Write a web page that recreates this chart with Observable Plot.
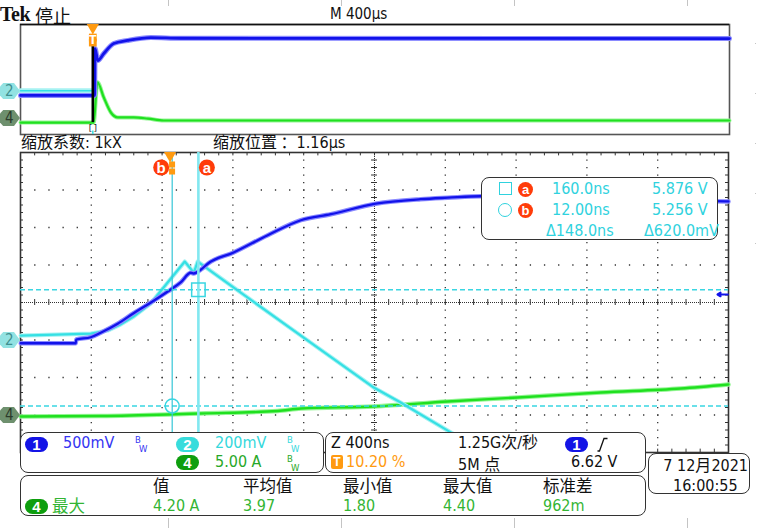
<!DOCTYPE html>
<html><head><meta charset="utf-8">
<script src="https://cdn.jsdelivr.net/npm/d3@7"></script>
<script src="https://cdn.jsdelivr.net/npm/@observablehq/plot@0.6"></script>
<style>
body{margin:0;background:#fff;}
#wrap{position:relative;width:757px;height:528px;overflow:hidden;background:#fff;font-family:"Liberation Sans Narrow","DejaVu Sans Condensed","Noto Sans CJK SC",sans-serif;font-size:16px;color:#111;}
.abs{position:absolute;white-space:nowrap;line-height:1;}
.box{position:absolute;border:1.3px solid #333;border-radius:8px;background:#fff;box-sizing:border-box;}
.pill{position:absolute;width:23px;height:15px;border-radius:8px;color:#fff;font-weight:bold;font-size:15px;text-align:center;line-height:15px;font-family:"Liberation Sans","DejaVu Sans",sans-serif;}
.cjk{font-family:"Noto Sans CJK SC",sans-serif;line-height:1;}
.tag{position:absolute;left:0;width:20px;height:16px;clip-path:polygon(0 22%,16% 0,70% 0,100% 50%,70% 100%,16% 100%,0 78%);font-size:15px;line-height:16px;padding-left:5px;box-sizing:border-box;}
.sep{position:absolute;width:1px;background:#c4c4c4;}
.bw{position:absolute;font-size:8.5px;line-height:1;font-family:"DejaVu Sans",sans-serif;}
.ab{display:inline-block;width:15px;height:15px;border-radius:50%;background:#ff3c0a;color:#fff;font-weight:bold;font-size:13px;line-height:15px;text-align:center;font-family:"Liberation Sans","DejaVu Sans",sans-serif;}
svg{display:block;}
</style></head><body><div id="wrap"></div>
<script>
// ---------------- settings ----------------
const mainTimeDomain = [-845, 3155];      // ns, Z 400 ns/div, 10 div
const overviewTimeDomain = [-408, 3592];  // µs, M 400 µs/div, trigger at 10.20 %
const divDomain = [-4, 4];
const ch1Set = {vdiv: 0.5, offset: 6.513, pos: 0};     // 500 mV/div
const ch2Set = {vdiv: 0.2, offset: 5.605, pos: -1.013}; // 200 mV/div
const ch4Set = {vdiv: 5.0, offset: 0, pos: -3.013};     // 5.00 A/div
const trigLevel = 6.62; // V on ch1

// ---------------- zoomed window data (time ns) ----------------
const ch1T = [-844,-533,-530,-448,-392,-296,-206,-110,-13,60,117,134,173,213,359,552,739,908,1162,1416,1569,1755,2433,3155];
const ch1V = [5.97,5.97,6.02,6.05,6.11,6.23,6.37,6.51,6.66,6.78,6.91,6.90,6.95,7.03,7.18,7.41,7.61,7.69,7.83,7.89,7.91,7.93,7.89,7.86];

const ch2T = [-844,-448,-352,-280,-206,-110,83,134,156,344,739,1151,1303,1569,1642];
const ch2V = [5.631,5.642,5.658,5.690,5.732,5.802,6.026,5.967,6.026,5.898,5.631,5.354,5.274,5.124,5.082];

const ch4T = [-844,-392,-13,173,608,739,1151,1569,1964,2433,2885,3155];
const ch4A = [-0.13,-0.07,0.13,0.27,0.60,0.93,1.20,1.87,2.40,3.07,3.60,4.13];

// cursors (source ch2)
const cursorT = {a: 160.0, b: 12.00};
const cursorV = {a: 5.876, b: 5.256};

// ---------------- overview record (time µs, value in display divisions) ----------------
const ovCh1T = [-408,10,13,28,62,118,197,327,497,3592];
const ovCh1D = [-1.16,-1.16,2.25,1.38,1.89,2.62,2.84,3.05,3.00,2.98];
const ovCh2T = [-408,0];
const ovCh2D = [-0.82,-0.82];
const ovCh4T = [-408,5,26,62,102,141,231,310,400,3592];
const ovCh4D = [-3.13,-3.13,-0.20,-1.31,-2.40,-2.76,-2.76,-2.84,-2.98,-2.98];

// ---------------- helpers ----------------
const toDiv = (v, s) => (v - s.offset) / s.vdiv + s.pos;
const mk = (T, V, s) => T.map((t, i) => ({t, y: s ? toDiv(V[i], s) : V[i]}));
const c1 = mk(ch1T, ch1V, ch1Set), c2 = mk(ch2T, ch2V, ch2Set), c4 = mk(ch4T, ch4A, ch4Set);
const o1 = mk(ovCh1T, ovCh1D), o2 = mk(ovCh2T, ovCh2D), o4 = mk(ovCh4T, ovCh4D);

const BLUE = "#1212ea", BLUE_H = "#8a8aff";
const CYAN = "#35e0e4", CYAN_H = "#a6f2f2";
const GREEN = "#1fe01f", GREEN_H = "#95f595";
const ORANGE = "#ff9a10", RED = "#ff3c0a";

const t0 = mainTimeDomain[0], divW = (mainTimeDomain[1]-mainTimeDomain[0])/10;
const majorT = d3.range(1,10).filter(k => k !== 5).map(k => t0 + divW*k);
const centerT = t0 + divW*5;
const majorY = [-3,-2,-1,1,2,3];
const minorT = d3.range(0,51).map(i => t0 + divW/5*i);
const minorY = d3.range(0,41).map(i => -4 + 0.2*i);
const tickT = divW/5*0.21; // ~3px in time units

const wrap = document.getElementById("wrap");
function add(html, style, cls = "abs") {
  const d = document.createElement("div"); d.className = cls; d.innerHTML = html;
  Object.assign(d.style, style); wrap.appendChild(d); return d;
}

// ---------------- overview plot ----------------
const ov = Plot.plot({
  width: 757, height: 140, marginLeft: 20, marginRight: 28, marginTop: 24, marginBottom: 6,
  x: {domain: overviewTimeDomain, axis: null},
  y: {domain: divDomain, axis: null},
  style: {background: "transparent", overflow: "visible"},
  marks: [
    Plot.frame({stroke: "#555", strokeWidth: 1.6}),
    Plot.ruleY([4], {stroke: "#111", strokeWidth: 1.6}),
    Plot.line(o2, {x: "t", y: "y", stroke: CYAN_H, strokeWidth: 5}),
    Plot.line(o2, {x: "t", y: "y", stroke: CYAN, strokeWidth: 1.5}),
    Plot.line(o4, {x: "t", y: "y", stroke: GREEN_H, strokeWidth: 4, curve: "monotone-x"}),
    Plot.line(o4, {x: "t", y: "y", stroke: GREEN, strokeWidth: 2.2, curve: "monotone-x"}),
    Plot.line(o1, {x: "t", y: "y", stroke: BLUE_H, strokeWidth: 5, curve: "monotone-x"}),
    Plot.line(o1, {x: "t", y: "y", stroke: BLUE, strokeWidth: 2.8, curve: "monotone-x"}),
    Plot.ruleX([0], {y1: 2.4, y2: -3.13, stroke: "#000", strokeWidth: 2.6}),
    Plot.ruleX([0], {y1: -3.75, y2: -4, stroke: CYAN, strokeWidth: 1.5}),
    Plot.text([0], {x: d => d, y: -3.5, text: () => "[ ]", fontSize: 9, fill: "#222"}),
    Plot.dot([0], {x: d => d, y: 4, dy: 3, symbol: "triangle", rotate: 180, r: 4.5, fill: ORANGE}),
    Plot.dot([0], {x: d => d, y: 2.98, dy: -1, symbol: "square", r: 4.4, fill: ORANGE}),
    Plot.dot([0], {x: d => d, y: 2.98, dy: 4, symbol: "square", r: 4.4, fill: ORANGE}),
    Plot.text([0], {x: d => d, y: 2.98, dy: 1, text: () => "T", fill: "#fff", fontSize: 13, fontWeight: "bold"})
  ]
});
ov.style.position = "absolute"; ov.style.left = "0px"; ov.style.top = "0px";
wrap.appendChild(ov);

// ---------------- main (zoom) plot ----------------
const MAIN_TOP = 142;
const main = Plot.plot({
  width: 757, height: 320, marginLeft: 20, marginRight: 29, marginTop: 10, marginBottom: 10,
  x: {domain: mainTimeDomain, axis: null},
  y: {domain: divDomain, axis: null},
  style: {background: "transparent", overflow: "visible"},
  marks: [
    Plot.ruleX(majorT, {stroke: "#333", strokeWidth: 1.3, strokeDasharray: "1.3,6.2"}),
    Plot.ruleY(majorY, {stroke: "#333", strokeWidth: 1.3, strokeDasharray: "1.3,12.86"}),
    Plot.ruleX([centerT], {stroke: "#333", strokeWidth: 1, strokeDasharray: "1,1"}),
    Plot.ruleY([0], {stroke: "#333", strokeWidth: 1, strokeDasharray: "1,1"}),
    Plot.ruleX(minorT, {y1: -0.08, y2: 0.08, stroke: "#333", strokeWidth: 1}),
    Plot.ruleY(minorY, {x1: centerT - tickT, x2: centerT + tickT, stroke: "#333", strokeWidth: 1}),
    Plot.ruleX(minorT, {y1: 4, y2: 3.91, stroke: "#333", strokeWidth: 1}),
    Plot.ruleX(minorT, {y1: -4, y2: -3.91, stroke: "#333", strokeWidth: 1}),
    Plot.ruleY(minorY, {x1: t0, x2: t0 + tickT, stroke: "#333", strokeWidth: 1}),
    Plot.ruleY(minorY, {x1: mainTimeDomain[1], x2: mainTimeDomain[1] - tickT, stroke: "#333", strokeWidth: 1}),
    Plot.frame({stroke: "#333", strokeWidth: 1.6}),
    // traces
    Plot.line(c4, {x: "t", y: "y", stroke: GREEN_H, strokeWidth: 4.5, curve: "monotone-x"}),
    Plot.line(c4, {x: "t", y: "y", stroke: GREEN, strokeWidth: 2.4, curve: "monotone-x"}),
    Plot.line(c2, {x: "t", y: "y", stroke: CYAN_H, strokeWidth: 4.2}),
    Plot.line(c2, {x: "t", y: "y", stroke: CYAN, strokeWidth: 2.2}),
    Plot.line(c1, {x: "t", y: "y", stroke: BLUE_H, strokeWidth: 4.5, curve: "monotone-x"}),
    Plot.line(c1, {x: "t", y: "y", stroke: BLUE, strokeWidth: 2.3, curve: "monotone-x"}),
    // cursors
    Plot.ruleY([cursorV.a, cursorV.b].map(v => toDiv(v, ch2Set)), {stroke: "#3ad6e2", strokeWidth: 1.5, strokeDasharray: "5,3"}),
    Plot.ruleX([cursorT.b], {stroke: "#35c6d6", strokeWidth: 1.2}),
    Plot.ruleX([cursorT.a], {stroke: "#82e8f0", strokeWidth: 2.6}),
    Plot.dot([cursorT.a], {x: d => d, y: toDiv(cursorV.a, ch2Set), symbol: "square", r: 7.6, stroke: "#3ad6e2", strokeWidth: 1.5, fill: "none"}),
    Plot.dot([cursorT.b], {x: d => d, y: toDiv(cursorV.b, ch2Set), symbol: "circle", r: 7, stroke: "#3ad6e2", strokeWidth: 1.5, fill: "none"}),
    // trigger point marker and cursor labels
    Plot.dot([0], {x: d => d, y: 4, dy: 3, symbol: "triangle", rotate: 180, r: 4.5, fill: ORANGE}),
    Plot.dot([0], {x: d => d, y: 3.6, dx: 2, dy: -3, symbol: "square", r: 3.4, fill: ORANGE}),
    Plot.dot([0], {x: d => d, y: 3.6, dx: 2, dy: 4, symbol: "square", r: 3.4, fill: ORANGE}),
    Plot.dot([cursorT.b], {x: d => d, y: 3.6, dx: -11, r: 8, fill: RED}),
    Plot.text([cursorT.b], {x: d => d, y: 3.6, dx: -11, dy: 0.5, text: () => "b", fill: "#fff", fontSize: 15, fontWeight: "bold", fontFamily: "Liberation Sans, DejaVu Sans, sans-serif"}),
    Plot.dot([cursorT.a], {x: d => d, y: 3.6, dx: 8.5, r: 8, fill: RED}),
    Plot.text([cursorT.a], {x: d => d, y: 3.6, dx: 8.5, dy: 0.5, text: () => "a", fill: "#fff", fontSize: 15, fontWeight: "bold", fontFamily: "Liberation Sans, DejaVu Sans, sans-serif"}),
    // ch1 trigger level arrow
    Plot.arrow([trigLevel], {x1: mainTimeDomain[1] - 4, x2: mainTimeDomain[1] - 62, y: d => toDiv(d, ch1Set), stroke: BLUE, strokeWidth: 2.2, headLength: 9})
  ]
});
main.style.position = "absolute"; main.style.left = "0px"; main.style.top = MAIN_TOP + "px";
wrap.appendChild(main);

// ---------------- channel tags on the left ----------------
function yOf(plot, v, top, fallback) {
  try { return plot.scale("y").apply(v) + top; } catch (e) { return fallback(v); }
}
const mainY = v => yOf(main, v, MAIN_TOP, d => 152 + (4 - d) / 8 * 300);
const ovY = v => yOf(ov, v, 0, d => 24 + (4 - d) / 8 * 110);
function tag(txt, y, bg, fg) { add(txt, {top: (y - 8) + "px", background: bg, color: fg}, "tag"); }
tag("2", ovY(-0.87), "#92e2e2", "#3f8f8f");
tag("4", ovY(-2.84), "#6e906e", "#2b3b2b");
tag("2", mainY(ch2Set.pos), "#92e2e2", "#3f8f8f");
tag("4", mainY(ch4Set.pos), "#6e906e", "#2b3b2b");

// ---------------- header texts ----------------
add("Tek", {left: "0px", top: "4px", fontFamily: "'Liberation Serif','DejaVu Serif',serif", fontWeight: "bold", fontSize: "20px", letterSpacing: "-0.5px"});
add("停止", {left: "35px", top: "6px", fontSize: "18px"}, "abs cjk");
add("M 400µs", {left: "330px", top: "7px", fontSize: "15px"});
add('<span class="cjk">缩放系数</span>: 1kX', {left: "21px", top: "133px", fontSize: "16px"});
add('<span class="cjk">缩放位置 ：</span>1.16µs', {left: "213px", top: "133px", fontSize: "16px"});
[168, 341, 514, 687].forEach(x => {
  add("", {left: x + "px", top: "0px", height: "6px"}, "sep");
  add("", {left: x + "px", top: "518px", height: "10px"}, "sep");
});
[43, 93, 143, 193, 243].forEach(y => add("", {left: "755px", top: y + "px", height: "1px"}, "sep"));

// ---------------- cursor readout ----------------
add("", {left: "481px", top: "177px", width: "237px", height: "63px"}, "box");
const CUR = "#2fd2de";
function cadd(html, l, t, extra = {}) { add(html, Object.assign({left: l + "px", top: t + "px", color: CUR}, extra)); }
add("", {left: "499px", top: "182px", width: "11px", height: "11px", border: "1.5px solid " + CUR});
add("", {left: "498px", top: "203px", width: "12px", height: "12px", border: "1.5px solid " + CUR, borderRadius: "50%"});
add('<span class="ab">a</span>', {left: "518px", top: "181px"});
add('<span class="ab">b</span>', {left: "518px", top: "202px"});
cadd(cursorT.a.toFixed(1) + "ns", 552, 181);
cadd(cursorV.a.toFixed(3) + " V", 652, 181);
cadd(cursorT.b.toFixed(2) + "ns", 552, 202);
cadd(cursorV.b.toFixed(3) + " V", 652, 202);
cadd("Δ" + (cursorT.a - cursorT.b).toFixed(1) + "ns", 546, 223);
cadd("Δ" + ((cursorV.a - cursorV.b) * 1000).toFixed(1) + "mV", 644, 223);

// ---------------- bottom readout boxes ----------------
const C1 = "#3434f2", C2 = "#34d8dc", C4 = "#28a828";
add("", {left: "20px", top: "432px", width: "304px", height: "41px"}, "box");
add("", {left: "325px", top: "432px", width: "321px", height: "41px"}, "box");
add("", {left: "20px", top: "475px", width: "626px", height: "41px"}, "box");
add("", {left: "648px", top: "453px", width: "102px", height: "41px"}, "box");

function pill(txt, l, t, bg) { add(txt, {left: l + "px", top: t + "px", background: bg}, "pill"); }
function bw(l, t, col) {
  add('B', {left: l + "px", top: (t - 1) + "px", color: col}, "bw");
  add('W', {left: (l + 4) + "px", top: (t + 7.6) + "px", color: col}, "bw");
}
pill("1", 25, 437, "#1414e6");
add("500mV", {left: "63px", top: "435px", color: C1});
bw(135, 437, C1);
pill("2", 176, 437, "#38dcdc");
add("200mV", {left: "215px", top: "435px", color: C2});
bw(287, 437, C2);
pill("4", 176, 455, "#0e9e0e");
add("5.00 A", {left: "215px", top: "454px", color: C4});
bw(287, 456, C4);

add("Z 400ns", {left: "331px", top: "435px"});
add('1.25G<span class="cjk">次</span>/<span class="cjk">秒</span>', {left: "458px", top: "433px"});
pill("1", 565, 437, "#1414e6");
add('<svg width="11" height="15"><polyline points="0.5,14 2.5,14 7,1.5 10.5,1.5" fill="none" stroke="#111" stroke-width="1.3"/></svg>', {left: "597px", top: "437px"});
add("T", {left: "331px", top: "455px", width: "12px", height: "14px", background: ORANGE, color: "#fff", fontWeight: "bold", fontSize: "12px", lineHeight: "14px", textAlign: "center", borderRadius: "2px", fontFamily: "'Liberation Sans',sans-serif"});
add("10.20 %", {left: "346px", top: "454px", color: ORANGE});
add('5M <span class="cjk">点</span>', {left: "458px", top: "455px"});
add(trigLevel.toFixed(2) + " V", {left: "571px", top: "454px"});

add('7 12<span class="cjk">月</span>2021', {right: "9px", top: "456px"});
add("16:00:55", {left: "673px", top: "478px"});

// measurement row
const measHead = ["值", "平均值", "最小值", "最大值", "标准差"];
const measVal = ["4.20 A", "3.97", "1.80", "4.40", "962m"];
const measX = [153, 243, 343, 443, 543];
measHead.forEach((h, i) => add(h, {left: measX[i] + "px", top: "477px", fontSize: "16.5px"}, "abs cjk"));
pill("4", 25, 499, "#0e9e0e");
add("最大", {left: "52px", top: "497px", fontSize: "16.5px", color: "#33b533"}, "abs cjk");
measVal.forEach((v, i) => add(v, {left: measX[i] + "px", top: "498px", color: "#33b533"}));
</script></body></html>
